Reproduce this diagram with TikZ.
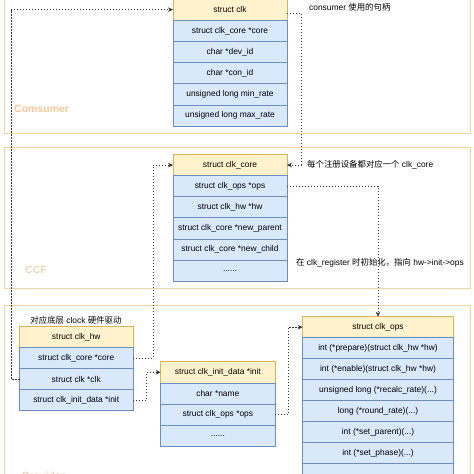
\documentclass[tikz,border=0pt]{standalone}
\usepackage{fontspec}
\setmainfont{Liberation Sans}
\newfontfamily\cjk{Noto Sans CJK SC}
\usetikzlibrary{arrows.meta}
\definecolor{hdrfill}{HTML}{FFF2CC}
\definecolor{hdrline}{HTML}{D6B656}
\definecolor{fldfill}{HTML}{DAE8FC}
\definecolor{fldline}{HTML}{6C8EBF}
\definecolor{contline}{HTML}{F3D2A6}
\definecolor{consumerlbl}{HTML}{F5C79C}
\definecolor{ccflbl}{HTML}{EDD6B0}
\definecolor{provlbl}{HTML}{EBD3C3}
\definecolor{arrowcol}{HTML}{333333}
\begin{document}
\begin{tikzpicture}[x=1pt,y=-1pt,
  font=\fontsize{8.4}{10}\selectfont,
  cell/.style={draw, inner sep=0pt, outer sep=0pt, line width=0.7pt, text=black},
  hdr/.style={cell, fill=hdrfill, draw=hdrline},
  fld/.style={cell, fill=fldfill, draw=fldline},
  cont/.style={draw=contline, line width=1pt},
  grouplbl/.style={font=\fontsize{10.5}{12}\selectfont\bfseries, anchor=west, inner sep=0pt},
  note/.style={anchor=west, inner sep=0pt, text=black},
  conn/.style={draw=arrowcol, line width=0.9pt, dash pattern=on 1.3pt off 1.7pt,
    -{Stealth[length=5pt,width=4.5pt]}},
]
\clip (0,0) rectangle (474,474);
\fill[white] (0,0) rectangle (474,474);

% containers
\draw[cont] (4.5,-10) rectangle (470.5,133);
\draw[cont] (4,147) rectangle (470,288);
\draw[cont] (4,305.5) rectangle (470,500);
\node[grouplbl, text=consumerlbl] (lblcons) at (14,109) {Comsumer};
\node[grouplbl, text=ccflbl] (lblccf) at (25,270) {CCF};
\node[grouplbl, text=provlbl] (lblprov) at (22,476) {Provider};

% struct clk
\begin{scope}[every node/.append style={minimum width=114pt, minimum height=21.2pt}]
\node[hdr] (clkhdr) at (230,9.6) {struct clk};
\node[fld] (clkcore) at (230,30.8) {struct clk\_core *core};
\node[fld] (clkdev) at (230,52) {char *dev\_id};
\node[fld] (clkcon) at (230,73.2) {char *con\_id};
\node[fld] (clkmin) at (230,94.4) {unsigned long min\_rate};
\node[fld] (clkmax) at (230,115.6) {unsigned long max\_rate};
\end{scope}

% struct clk_core
\begin{scope}[every node/.append style={minimum width=114pt, minimum height=21.1pt}]
\node[hdr] (corehdr) at (230,165.05) {struct clk\_core};
\node[fld] (coreops) at (230,186.15) {struct clk\_ops *ops};
\node[fld] (corehw) at (230,207.25) {struct clk\_hw *hw};
\node[fld] (corepar) at (230,228.35) {struct clk\_core *new\_parent};
\node[fld] (corechild) at (230,249.45) {struct clk\_core *new\_child};
\node[fld] (coredots) at (230,270.55) {......};
\end{scope}

% struct clk_hw
\begin{scope}[every node/.append style={minimum width=113.5pt, minimum height=21pt}]
\node[hdr] (hwhdr) at (76.25,337.2) {struct clk\_hw};
\node[fld] (hwcore) at (76.25,358.2) {struct clk\_core *core};
\node[fld] (hwclk) at (76.25,379.2) {struct clk *clk};
\node[fld] (hwinit) at (76.25,400.2) {struct clk\_init\_data *init};
\end{scope}

% struct clk_init_data
\begin{scope}[every node/.append style={minimum width=114.3pt, minimum height=21.25pt}]
\node[hdr] (inithdr) at (217.85,372.3) {struct clk\_init\_data *init};
\node[fld] (initname) at (217.85,393.6) {char *name};
\node[fld] (initops) at (217.85,414.8) {struct clk\_ops *ops};
\node[fld] (initdots) at (217.85,436.1) {......};
\end{scope}

% struct clk_ops
\begin{scope}[every node/.append style={minimum width=150.6pt, minimum height=21pt}]
\node[hdr] (opshdr) at (378,327.2) {struct clk\_ops};
\node[fld] (opsprep) at (378,348.2) {int (*prepare)(struct clk\_hw *hw)};
\node[fld] (opsen) at (378,369.2) {int (*enable)(struct clk\_hw *hw)};
\node[fld] (opsrecalc) at (378,390.2) {unsigned long (*recalc\_rate)(...)};
\node[fld] (opsround) at (378,411.2) {long (*round\_rate)(...)};
\node[fld] (opspar) at (378,432.2) {int (*set\_parent)(...)};
\node[fld] (opsphase) at (378,453.2) {int (*set\_phase)(...)};
\node[fld] (opsmore) at (378,474.2) {};
\end{scope}

% notes
\node[note] (ncons) at (309,7) {consumer {\cjk 使用的句柄}};
\node[note] (ncore) at (307,165) {{\cjk 每个注册设备都对应一个} clk\_core};
\node[note] (nreg) at (296,263.3) {{\cjk 在} clk\_register {\cjk 时初始化，指向} hw->init->ops};
\node[anchor=center, inner sep=0pt] (nhw) at (76,320) {{\cjk 对应底层} clock {\cjk 硬件驱动}};

% connectors
\draw[conn] (hwclk.west) -- ++(-8.5,0) |- (clkhdr.west);
\draw[conn] ([yshift=-4pt]clkhdr.east) -- ++(14.5,0) |- (corehdr.east);
\draw[conn] (hwcore.east) -- ++(20,0) |- (corehdr.west);
\draw[conn] (coreops.east) -| (opshdr.north);
\draw[conn] (hwinit.east) -- ++(13.7,0) |- (inithdr.west);
\draw[conn] (initops.east) -- ++(13.3,0) |- (opshdr.west);
\end{tikzpicture}
\end{document}
